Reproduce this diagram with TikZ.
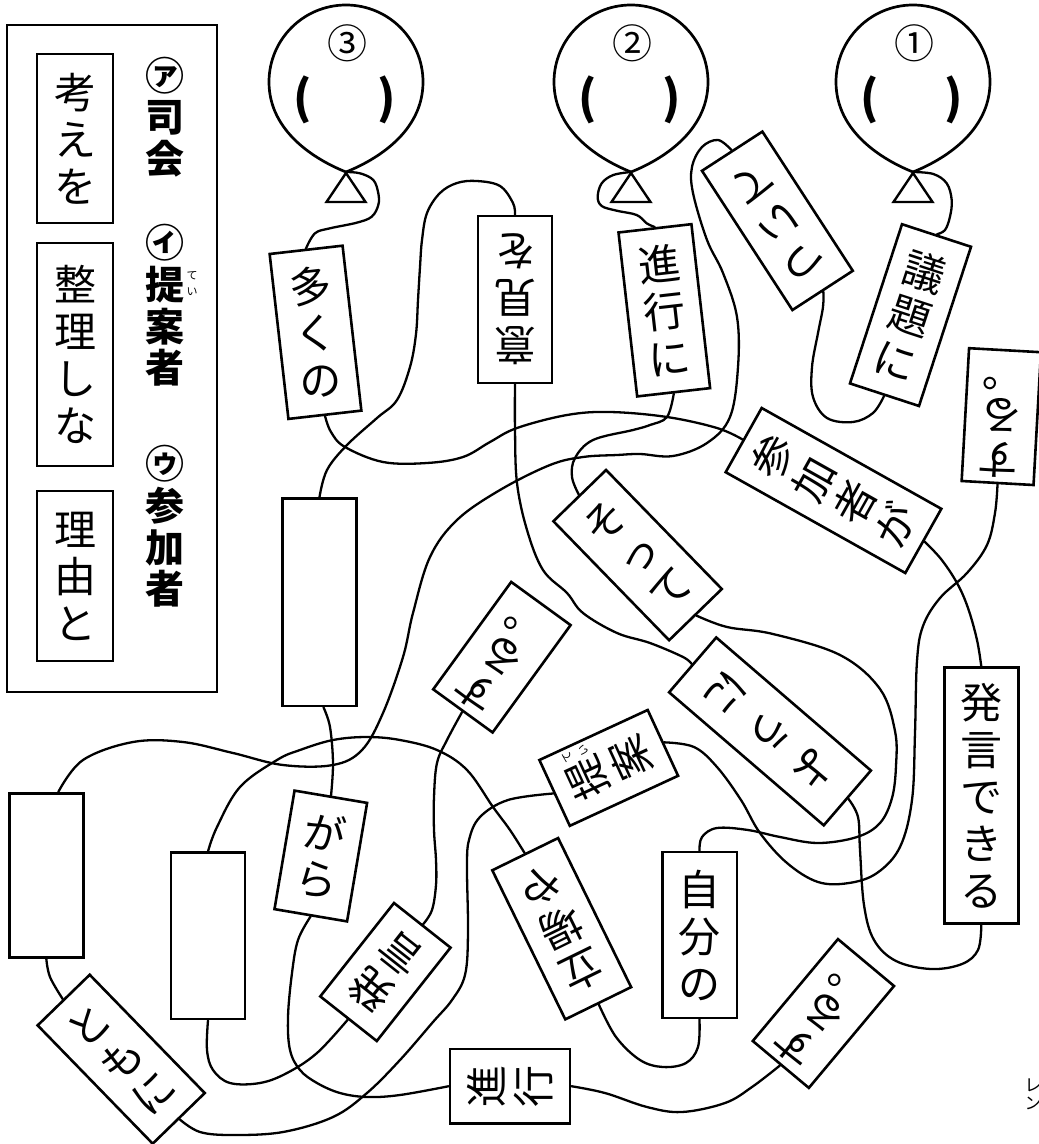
\documentclass[tikz,border=0pt]{standalone}
\usepackage{fontspec}
\setmainfont{Noto Sans CJK JP}
\newcommand\cardfont{\fontsize{42}{47}\selectfont}
\newcommand\surufont{\fontsize{42}{44}\selectfont}
\newcommand\legfont{\fontsize{39}{41.7}\selectfont\bfseries}
\begin{document}
\begin{tikzpicture}[x=1pt,y=-1pt,
  strg/.style={line width=2.3pt, line cap=round, line join=round},
  bl/.style={line width=2.7pt, line join=round},
  card/.style={draw, line width=2.6pt, fill=white, inner sep=0pt, align=center, font=\cardfont},
  ruby/.style={inner sep=0pt, font=\fontsize{11}{11}\selectfont},
  legtext/.style={inner sep=0pt, align=center, font=\legfont},
  paren/.style={inner sep=0pt, font=\fontsize{46}{46}\selectfont\bfseries},
  num/.style={inner sep=0pt, font=\fontsize{40}{40}\selectfont}]
\useasboundingbox (0,0) rectangle (1039,1144);

% ---------- legend ----------
\draw[line width=2.7pt] (7,25) rectangle (217,692);
\node[card, minimum width=76pt, minimum height=169pt] (lk) at (75,138.5) {考\\え\\を};
\node[card, minimum width=76pt, minimum height=223pt] (ls) at (75,354.5) {整\\理\\し\\な};
\node[card, minimum width=76pt, minimum height=170pt] (lr) at (75,576) {理\\由\\と};
\node[legtext] (la) at (165,117) {㋐\\司\\会};
\node[legtext] (li) at (165,305.5) {㋑\\提\\案\\者};
\node[legtext] (lu) at (165,526.5) {㋒\\参\\加\\者};
\node[ruby] (lrt) at (192,276) {て};
\node[ruby] (lri) at (192,292) {い};

% ---------- balloons ----------
\foreach \cx/\num/\nm in {346/③/bthree, 631/②/btwo, 913/①/bone} {
  \draw[bl] (\cx,172) .. controls (\cx-30,160) and (\cx-77,132) .. (\cx-77,82)
     arc[start angle=180,end angle=360,radius=77]
     .. controls (\cx+77,132) and (\cx+30,160) .. cycle;
  \draw[line width=2.4pt, line join=miter] (\cx,173) -- (\cx-19.5,202) -- (\cx+19.5,202) -- cycle;
  \node[num] (\nm-n) at (\cx+1,43) {\num};
  \node[paren] (\nm-l) at (\cx-43,100) {(};
  \node[paren] (\nm-r) at (\cx+41,100) {)};
  \coordinate (\nm-tip) at (\cx,172);
}

% ---------- cards ----------
\node[card, rotate=6.5, minimum width=73.4pt, minimum height=166pt] (ookuno) at (315.5,332.3) {多\\く\\の};
\node[card, rotate=180, minimum width=74pt, minimum height=167pt] (iken) at (515,299.5) {意\\見\\を};
\node[card, rotate=6.5, minimum width=73.4pt, minimum height=165pt] (shinkouni) at (664.3,310.3) {進\\行\\に};
\node[card, rotate=213, minimum width=72pt, minimum height=166pt] (tsuite) at (777.4,220.8) {つ\\い\\て};
\node[card, rotate=-18.1, minimum width=72.6pt, minimum height=167.5pt] (gidaini) at (910.5,315.1) {議\\題\\に};
\node[card, rotate=176.8, minimum width=72pt, minimum height=133pt, font=\surufont] (suruTR) at (1001.3,416.6) {す\\る\\︒};
\node[card, rotate=60.7, minimum width=73.6pt, minimum height=206pt] (sankasha) at (833.5,490.5) {参\\加\\者\\が};
\node[card, rotate=44.2, minimum width=73.5pt, minimum height=166pt] (sotte) at (637.6,555.1) {そ\\っ\\て};
\node[card, rotate=229.3, minimum width=72.3pt, minimum height=204pt, font=\fontsize{42}{58}\selectfont] (youni) at (770,731.4) {よ\\う\\に};
\node[card, rotate=144, minimum width=73.4pt, minimum height=132.7pt, font=\surufont] (suruMid) at (501.9,657.2) {す\\る\\︒};
\node[card, rotate=114.8, minimum width=72.5pt, minimum height=119.3pt] (teian) at (608.75,767.9) {提\\案};
\node[ruby, rotate=114.8] (teianrt) at (567.4,757.2) {て};
\node[ruby, rotate=114.8] (teianri) at (583.8,749.7) {い};
\node[card, minimum width=74pt, minimum height=256pt] (hdekiru) at (981.3,795.7) {発\\言\\で\\き\\る};
\node[card, minimum width=74.6pt, minimum height=166pt] (jibunno) at (699.5,935) {自\\分\\の};
\node[card, rotate=206.1, minimum width=73.3pt, minimum height=166pt] (tachiba) at (561.7,928.7) {立\\場\\や};
\node[card, rotate=90, minimum width=74.3pt, minimum height=120pt] (shinkou) at (510,1086.2) {進\\行};
\node[card, rotate=140.1, minimum width=73.1pt, minimum height=132.8pt, font=\surufont] (suruBot) at (823.4,1013.5) {す\\る\\︒};
\node[card, rotate=-9.6, minimum width=73.6pt, minimum height=120.2pt] (gara) at (320.8,856) {が\\ら};
\node[card, rotate=141.7, minimum width=72pt, minimum height=119pt] (hatsugen) at (385.4,972) {発\\言};
\node[card, rotate=44.2, minimum width=72.6pt, minimum height=165pt] (tomoni) at (121.2,1059.2) {と\\も\\に};

\node[card, minimum width=74.4pt, minimum height=207.7pt] (boxone) at (319.5,602.2) {};
\node[card, minimum width=74pt, minimum height=164pt] (boxtwo) at (46.3,875.3) {};
\node[card, minimum width=74pt, minimum height=166.3pt] (boxthree) at (208,935.9) {};

\node[inner sep=0pt, align=center, font=\fontsize{17}{18}\selectfont] (ren) at (1033,1094) {レ\\ン};

% ---------- strings ----------
\draw[strg] plot[smooth, tension=0.6] coordinates {(bthree-tip) (360,173.3) (373.3,180) (378.3,193.3) (378.3,205) (371.7,216.7) (356.7,222.7) (330,228.3) (315,233.3) (ookuno.north)};
\draw[strg] plot[smooth, tension=0.6] coordinates {(ookuno.south) (331,432) (345,447) (383,462) (427,463) (463,457) (490,442) (517,428) (567,415) (610,412) (667,417) (717,428) (sankasha.north)};
\draw[strg] plot[smooth, tension=0.6] coordinates {(sankasha.south) (941,559) (957,583) (968,608) (977,640) (hdekiru.north)};
\draw[strg] plot[smooth, tension=0.6] coordinates {(hdekiru.south) (978,950) (962,964) (931,969) (896,961) (874,940) (864,905) (860,850) (858,817) (youni.north)};
\draw[strg] plot[smooth, tension=0.6] coordinates {(youni.south) (683,657) (650,643) (617,633) (583,613) (567,593) (543,570) (527,530) (517,483) (515,430) (iken.north)};
\draw[strg] plot[smooth, tension=0.6] coordinates {(iken.south) (513,203) (500,186) (477,181) (457,183) (440,193) (427,213) (422,240) (420,267) (418,300) (416,334) (410,367) (397,400) (377,418) (347,445) (327,470) (boxone.north)};
\draw[strg] plot[smooth, tension=0.6] coordinates {([xshift=4pt]boxone.south) (330,727) (333,763) (gara.north)};
\draw[strg] plot[smooth, tension=0.6] coordinates {(gara.south) (298,940) (292,973) (288,1017) (290,1050) (300,1070) (317,1083) (340,1093) (367,1097) (400,1095) (shinkou.north)};
\draw[strg] plot[smooth, tension=0.6] coordinates {(shinkou.south) (605,1093) (647,1107) (682,1112) (725,1103) (752,1087) (suruBot.north)};

\draw[strg] plot[smooth, tension=0.6] coordinates {(btwo-tip) (613.3,175) (601.7,183.3) (597.7,196.7) (601.7,206) (616.7,210.7) (636.7,215) (646.7,223.3) (shinkouni.north)};
\draw[strg] plot[smooth, tension=0.6] coordinates {(shinkouni.south) (667,417) (650,425) (633,430) (593,440) (575,458) (572,477) (sotte.north)};
\draw[strg] plot[smooth, tension=0.6] coordinates {(sotte.south) (727,627) (773,634) (840,655) (880,689) (895,731) (896,766) (892,798) (880,823) (857,837) (818,843) (780,837) (748,830) (717,828) (702,837) (jibunno.north)};
\draw[strg] plot[smooth, tension=0.6] coordinates {(jibunno.south) (698,1047) (686,1063) (663,1067) (640,1060) (616,1037) (tachiba.north)};
\draw[strg] plot[smooth, tension=0.6] coordinates {(tachiba.south) (510,830) (493,807) (467,770) (437,750) (400,740) (367,737) (333,740) (300,750) (277,760) (240,787) (217,827) (boxthree.north)};
\draw[strg] plot[smooth, tension=0.6] coordinates {(boxthree.south) (207,1050) (213,1070) (230,1083) (260,1083) (287,1073) (317,1053) (hatsugen.north)};
\draw[strg] plot[smooth, tension=0.6] coordinates {(hatsugen.south) (432,910) (436,885) (436,860) (434,830) (434,797) (437,763) (447,740) (suruMid.north)};

\draw[strg] plot[smooth, tension=0.6] coordinates {(bone-tip) (933.3,174) (946.7,183.3) (951.7,200) (950,216.7) (945,230) (gidaini.north)};
\draw[strg] plot[smooth, tension=0.6] coordinates {(gidaini.south) (873,413) (853,422) (827,418) (813,397) (812,367) (818,333) (823,307) (tsuite.north)};
\draw[strg] plot[smooth, tension=0.6] coordinates {(tsuite.south) (718,140) (702,147) (692,167) (693,193) (707,240) (723,273) (737,317) (738,367) (730,417) (707,443) (673,456) (640,454) (617,455) (583,457) (550,465) (500,490) (457,520) (430,557) (413,613) (403,657) (383,713) (362,750) (333,765) (283,765) (233,753) (183,742) (133,742) (83,760) ([xshift=12pt]boxtwo.north)};
\draw[strg] plot[smooth, tension=0.6] coordinates {(boxtwo.south) (50,977) (tomoni.north)};
\draw[strg] plot[smooth, tension=0.6] coordinates {(tomoni.south) (200,1132) (233,1135) (283,1132) (333,1117) (367,1093) (400,1060) (433,1022) (452,1000) (465,975) (468,933) (467,867) (469,840) (480,817) (508,800) (teian.north)};
\draw[strg] plot[smooth, tension=0.6] coordinates {(teian.south) (694,747) (717,767) (741,800) (760,833) (787,863) (818,882) (849,883) (877,873) (900,847) (912,800) (915,733) (917,661) (923,626) (940,598) (967,573) (987,545) (995,513) (suruTR.north)};
\end{tikzpicture}
\end{document}
